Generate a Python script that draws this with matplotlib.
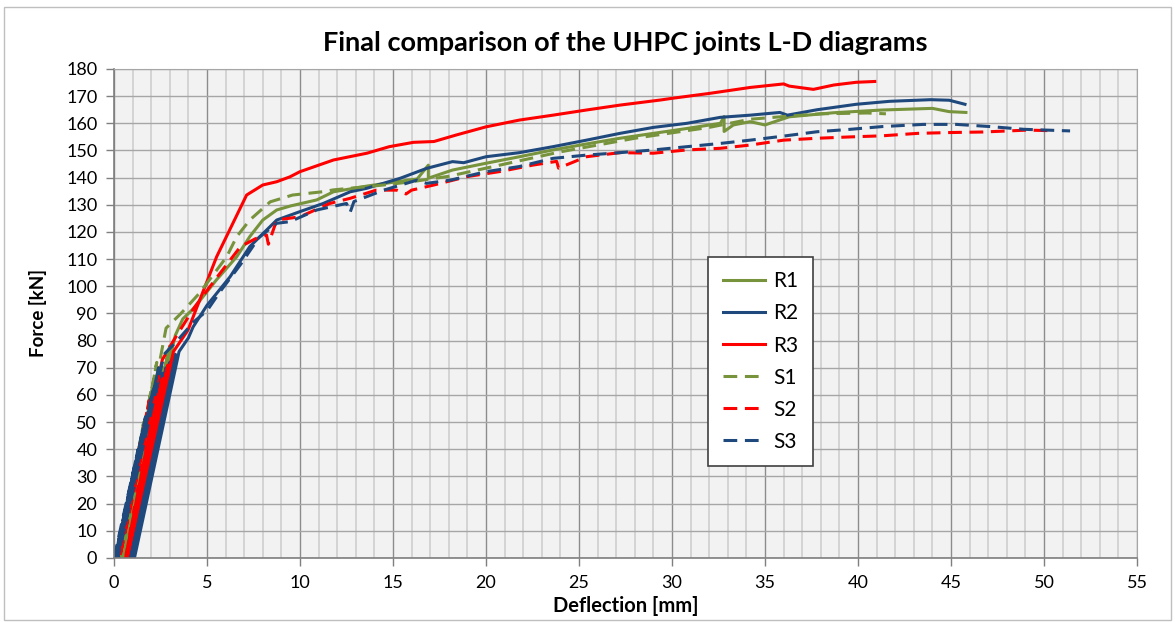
import matplotlib
matplotlib.use("Agg")
import matplotlib.pyplot as plt
from matplotlib.patches import Rectangle
from matplotlib.ticker import MultipleLocator

# --- data (deflection [mm], force [kN]) ---
R1_x = [0.2, 2.2, 0.3, 2.6, 0.4, 3.0, 0.5, 3.3, 3.7, 4.3, 5.5, 6.6, 7.3, 8.0, 8.75, 9.5, 10.9, 11.8,
        13.6, 15.4, 16.3, 16.9, 16.9, 18.2, 20.0, 21.8, 23.6, 25.4, 27.2, 29.0, 30.8, 32.6, 32.8, 32.8,
        33.3, 34.2, 35.0, 36.3, 38.7, 41.3, 44.0, 44.9, 45.8]
R1_y = [0, 62, 0, 70, 0, 78, 0, 82, 88, 92, 102.3, 110.9, 118.3, 124.4, 128.1, 129.6, 131.8, 134.8,
        136.9, 138.7, 139.5, 144.6, 139.8, 142.8, 145.3, 147.7, 150.2, 152.4, 154.5, 156.3, 158.1, 160.0, 162.5, 157.0,
        159.4, 160.6, 159.4, 162.4, 163.9, 164.9, 165.5, 164.3, 164.0]

R2_x = [0.5, 2.6, 0.6, 2.8, 0.7, 3.0, 0.8, 3.1, 0.9, 3.2, 1.0, 3.3, 1.1, 3.5, 4.0, 4.25, 5.0, 6.24, 7.3, 8.75,
        10.0, 11.25, 12.7, 13.6, 15.4, 16.8, 18.2, 18.8, 20.0, 21.8, 23.6, 25.4, 27.2, 29.0, 30.8, 32.6,
        34.2, 35.8, 36.2, 37.8, 39.9, 41.7, 43.9, 44.9, 45.75]
R2_y = [0, 68, 0, 70, 0, 72, 0, 73, 0, 74, 0, 75, 0, 76, 81, 85, 93, 103.5, 114.6, 124.4,
        127.5, 130.5, 134.8, 136.1, 139.8, 143.4, 145.9, 145.5, 147.7, 149.2, 151.4, 153.8, 156.3, 158.5, 160.0, 162.2,
        163.0, 164.0, 163.0, 165.0, 167.0, 168.1, 168.7, 168.5, 167.0]

R3_x = [0.4, 2.3, 0.5, 2.6, 0.6, 2.9, 0.7, 3.2, 3.98, 5.52, 7.13, 8.0, 8.75, 9.46, 10.0, 11.8, 13.6, 14.8,
        16.1, 17.2, 18.4, 20.0, 21.8, 23.6, 25.4, 27.2, 29.4, 30.0, 32.0, 34.2, 36.0, 36.3, 37.6, 38.7,
        39.9, 40.9]
R3_y = [0, 60, 0, 66, 0, 71, 0, 76, 83.9, 110.9, 133.6, 137.3, 138.5, 140.3, 142.2, 146.5, 149.0, 151.4,
        153.0, 153.3, 155.7, 158.7, 161.2, 163.0, 164.9, 166.7, 168.6, 169.2, 171.0, 173.2, 174.5, 173.7, 172.5, 174.1,
        175.1, 175.4]

S1_x = [0.25, 1.6, 0.3, 2.0, 0.35, 2.3, 0.45, 2.8, 3.6, 4.6, 6.06, 6.6, 7.3, 8.4, 9.6, 11.2, 11.8, 14.5,
        16.0, 18.0, 20.0, 22.0, 24.0, 26.0, 28.0, 30.0, 32.0, 34.2, 36.0, 38.0, 40.5, 41.5]
S1_y = [0, 50, 0, 62, 0, 72, 0, 84.6, 90, 97.5, 110.9, 118.3, 124.4, 131.1, 133.6, 134.8, 135.5, 137.3,
        138.5, 140.5, 143.5, 146.5, 149.5, 152.0, 154.5, 156.5, 158.5, 161.5, 162.5, 163.5, 163.8, 163.5]

S2_x = [0.1, 1.5, 0.15, 1.9, 0.2, 2.3, 0.3, 2.6, 3.2, 4.3, 5.5, 6.8, 7.6, 8.2, 8.3, 8.75, 10.0, 11.6,
        12.7, 14.1, 15.2, 15.7, 16.0, 17.2, 19.0, 20.8, 22.5, 23.8, 23.9, 25.4, 27.2, 29.0, 30.8, 32.6,
        34.2, 36.0, 37.8, 39.6, 41.3, 43.2, 44.9, 46.7, 49.1, 50.3]
S2_y = [0, 45, 0, 58, 0, 66, 0, 73, 80, 92, 103, 114.6, 117.5, 118.9, 115.5, 124.4, 125.6, 130.5,
        132.4, 135.4, 135.4, 134.0, 135.4, 137.3, 140.4, 142.3, 144.6, 146.0, 143.5, 147.7, 149.2, 149.0, 150.2, 150.8,
        152.0, 153.8, 154.5, 155.0, 155.4, 156.3, 156.6, 156.8, 157.5, 157.3]

S3_x = [0.0, 1.3, 0.05, 1.7, 0.1, 2.1, 0.15, 2.4, 0.2, 2.7, 3.4, 4.3, 5.0, 5.7, 6.8, 7.8, 8.75, 9.46,
        10.9, 12.5, 12.7, 12.9, 14.5, 16.3, 16.8, 18.1, 20.0, 21.8, 23.6, 25.4, 27.2, 29.0, 30.8, 32.6,
        34.2, 36.0, 37.8, 39.6, 41.3, 43.5, 45.3, 47.1, 48.9, 51.4]
S3_y = [0, 40, 0, 52, 0, 62, 0, 70, 0, 75, 80, 87, 91, 98, 108, 118, 123.2, 123.8,
        128.1, 130.5, 127.3, 131.2, 135.4, 139.1, 137.9, 139.1, 142.2, 144.1, 147.1, 148.3, 149.2, 150.2, 151.4, 152.6,
        153.8, 155.3, 156.9, 157.8, 158.8, 159.6, 159.6, 158.8, 157.8, 157.2]

GREEN = "#77933C"
BLUE = "#1F497D"
RED = "#FF0000"

plt.rcParams["font.family"] = ["Lato", "DejaVu Sans"]

fig = plt.figure(figsize=(11.75, 6.22), dpi=100)
ax = fig.add_axes([0.097, 0.1029, 0.8707, 0.7862])
ax.set_facecolor("#F2F2F2")

# outer chart frame
fig.patches.append(Rectangle((0.003, 0.003), 0.994, 0.985, transform=fig.transFigure,
                             fill=False, edgecolor="#BFBFBF", lw=1))

dash = (4.5, 2.5)
lw = 2.2
ax.plot(R1_x, R1_y, color=GREEN, lw=lw, label="R1")
ax.plot(R2_x, R2_y, color=BLUE, lw=lw, label="R2")
ax.plot(R3_x, R3_y, color=RED, lw=lw, label="R3")
ax.plot(S1_x, S1_y, color=GREEN, lw=lw, dashes=dash, label="S1")
ax.plot(S2_x, S2_y, color=RED, lw=lw, dashes=dash, label="S2")
ax.plot(S3_x, S3_y, color=BLUE, lw=lw, dashes=dash, label="S3")

ax.set_xlim(0, 55)
ax.set_ylim(0, 180)
ax.xaxis.set_major_locator(MultipleLocator(5))
ax.xaxis.set_minor_locator(MultipleLocator(1))
ax.yaxis.set_major_locator(MultipleLocator(10))

ax.grid(which="minor", axis="x", color="#CFCFCF", lw=1.2)
ax.grid(which="major", axis="x", color="#8C8C8C", lw=1.0)
ax.grid(which="major", axis="y", color="#A6A6A6", lw=1.0)
ax.set_axisbelow(True)

for s in ["left", "bottom"]:
    ax.spines[s].set_color("#7F7F7F")
    ax.spines[s].set_linewidth(1.2)
for s in ["top", "right"]:
    ax.spines[s].set_color("#A6A6A6")

ax.tick_params(axis="both", which="major", direction="out", length=6, width=1, color="#7F7F7F")
ax.tick_params(axis="x", which="minor", length=0)
ax.tick_params(axis="y", labelsize=13, pad=6)
ax.tick_params(axis="x", labelsize=13, pad=6)

ax.set_xlabel("Deflection [mm]", fontsize=14.5, fontweight="bold", labelpad=4)
ax.set_ylabel("Force [kN]", fontsize=13.5, fontweight="bold", labelpad=14)
ax.set_title("Final comparison of the UHPC joints L-D diagrams", fontsize=19.5, fontweight="bold",
             pad=13)

leg = ax.legend(loc="upper left", bbox_to_anchor=(0.581, 0.616), borderaxespad=0,
                fontsize=15, handlelength=2.0, handletextpad=0.4, labelspacing=0.58,
                borderpad=0.7, fancybox=False, framealpha=1, edgecolor="#404040")
leg.get_frame().set_linewidth(1.2)

fig.savefig("out.png", dpi=100)
